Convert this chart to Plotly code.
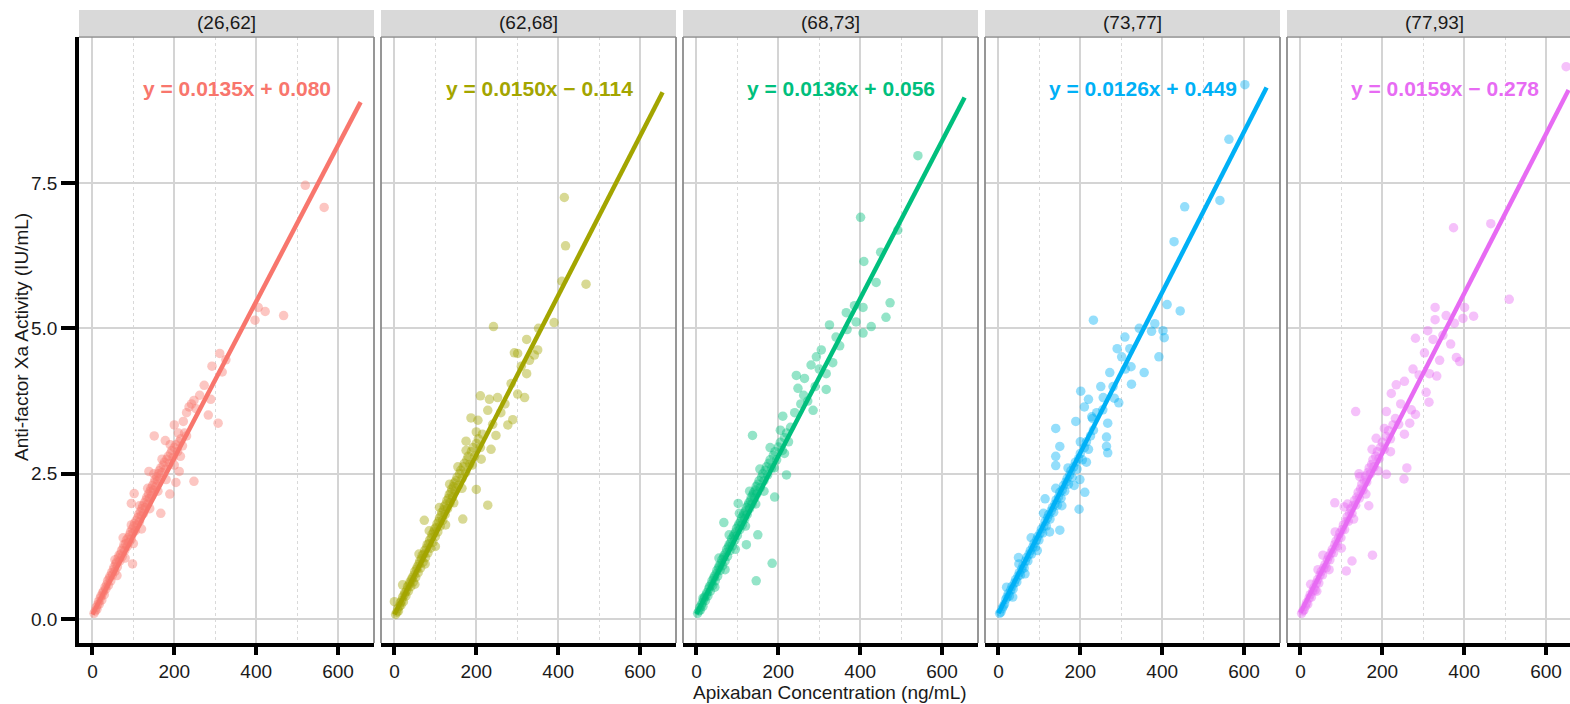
import plotly.graph_objects as go

# ---------------- data ----------------
panels = ["(26,62]", "(62,68]", "(68,73]", "(73,77]", "(77,93]"]
colors = ["#F8766D", "#A3A500", "#00BF7D", "#00B0F6", "#E76BF3"]
equations = ["y = 0.0135x + 0.080", "y = 0.0150x \u2212 0.114", "y = 0.0136x + 0.056",
             "y = 0.0126x + 0.449", "y = 0.0159x \u2212 0.278"]

# fitted line end points
line_x_start = [0, 0, 0, 0, 0]
line_x_end = [655, 655, 655, 655, 655]
line_y_start = [0.08, 0.08, 0.09, 0.10, 0.11]
line_y_end = [8.89, 9.06, 8.97, 9.14, 9.10]

# scatter points (concentration, activity)
pts1 = [(4,0.10),(7,0.14),(9,0.20),(11,0.17),(13,0.25),(15,0.30),(17,0.26),(19,0.36),(21,0.40),(23,0.33),
        (25,0.45),(27,0.48),(29,0.42),(31,0.55),(33,0.52),(35,0.60),(37,0.66),(39,0.58),(41,0.70),(43,0.74),
        (45,0.66),(47,0.80),(49,0.76),(51,0.85),(53,0.90),(55,0.82),(57,0.95),(59,0.98),(61,0.90),(63,1.05),
        (65,1.10),(67,1.00),(69,1.12),(71,1.18),(73,1.08),(75,1.22),(77,1.28),(79,1.18),(81,1.30),(83,1.36),
        (85,1.25),(87,1.40),(89,1.32),(91,1.45),(93,1.50),(95,1.38),(97,1.55),(99,1.48),(101,1.60),(103,1.65),
        (105,1.52),(107,1.70),(109,1.62),(111,1.75),(113,1.80),(115,1.68),(117,1.85),(119,1.78),(121,1.90),
        (123,1.95),(125,1.82),(127,2.00),(129,1.92),(131,2.05),(133,2.10),(135,1.98),(137,2.15),(139,2.08),
        (141,2.20),(143,2.25),(145,2.12),(147,2.30),(149,2.22),(151,2.35),(153,2.40),(155,2.28),(157,2.45),
        (159,2.38),(161,2.50),(163,2.55),(165,2.42),(167,2.60),(170,2.52),(173,2.65),(176,2.70),(179,2.58),
        (182,2.75),(185,2.80),(188,2.68),(191,2.85),(194,2.90),(197,2.78),(200,2.95),(204,3.00),(208,2.88),
        (212,3.05),(216,3.10),(220,2.98),(225,3.20),(230,3.15),
        (55,1.02),(60,0.75),(75,1.40),(80,1.05),(95,1.62),(100,1.30),(115,1.95),(120,1.55),(135,2.25),
        (140,1.90),(150,2.50),(160,2.20),(170,2.75),(180,2.40),(190,3.00),(200,2.65),(210,3.20),(215,2.80),
        (520,7.46),(566,7.08),(405,5.36),(422,5.29),(397,5.14),(467,5.22),(311,4.57),(292,4.35),(317,4.25),
        (326,4.46),(273,4.02),(289,3.78),(283,3.51),(307,3.37),(248,3.76),(236,3.65),(242,3.70),(253,3.62),
        (151,3.15),(178,3.07),(200,3.34),(248,2.37),(204,2.35),(189,2.15),(167,1.82),(98,0.95),(102,2.16),
        (95,1.99),(212,2.54),(138,2.54),(222,3.40),(262,3.85),(230,3.55)]

pts2 = [(3,0.08),(6,0.12),(8,0.18),(10,0.14),(12,0.22),(14,0.28),(16,0.24),(18,0.32),(20,0.38),(22,0.30),
        (24,0.42),(26,0.46),(28,0.40),(30,0.50),(32,0.56),(34,0.48),(36,0.60),(38,0.64),(40,0.56),(42,0.68),
        (44,0.72),(46,0.64),(48,0.76),(50,0.82),(52,0.72),(54,0.86),(56,0.90),(58,0.80),(60,0.95),(62,1.00),
        (64,0.88),(66,1.04),(68,1.10),(70,0.98),(72,1.12),(74,1.18),(76,1.06),(78,1.22),(80,1.28),(82,1.14),
        (84,1.30),(86,1.36),(88,1.22),(90,1.40),(92,1.46),(94,1.32),(96,1.50),(98,1.55),(100,1.42),(102,1.58),
        (104,1.64),(106,1.50),(108,1.68),(110,1.74),(112,1.60),(114,1.78),(116,1.84),(118,1.70),(120,1.88),
        (122,1.94),(124,1.80),(126,1.98),(128,2.04),(130,1.90),(132,2.08),(134,2.14),(136,2.00),(138,2.18),
        (140,2.24),(142,2.10),(144,2.28),(146,2.34),(148,2.20),(150,2.38),(153,2.44),(156,2.30),(159,2.50),
        (162,2.56),(165,2.42),(168,2.62),(171,2.68),(174,2.52),(177,2.74),(180,2.80),(184,2.66),(188,2.88),
        (192,2.95),(196,2.80),(200,3.02),(205,3.10),(210,2.95),(215,3.18),
        (50,0.60),(60,1.12),(75,0.95),(85,1.52),(100,1.25),(110,1.92),(125,1.62),(135,2.32),(145,2.00),
        (155,2.62),(165,2.25),(175,2.90),(190,2.65),(200,3.22),(212,2.75),
        (415,7.25),(418,6.42),(409,5.81),(468,5.76),(242,5.03),(390,5.10),(352,5.00),(323,4.81),(293,4.58),
        (301,4.57),(350,4.63),(342,4.54),(323,4.22),(318,3.81),(301,3.87),(210,3.84),(232,3.78),(252,3.81),
        (228,3.59),(187,3.46),(204,3.42),(277,3.34),(289,3.43),(175,3.06),(236,2.92),(248,3.16),(228,1.96),
        (200,2.23),(73,1.70),(167,1.72),(20,0.59),(0,0.30),(260,3.55),(270,3.70),(310,4.35),(330,4.45),
        (285,4.05),(240,3.35)]

pts3 = [(3,0.10),(6,0.14),(8,0.20),(10,0.16),(12,0.24),(14,0.28),(16,0.22),(18,0.34),(20,0.38),(22,0.32),
        (24,0.42),(26,0.46),(28,0.40),(30,0.52),(32,0.56),(34,0.48),(36,0.60),(38,0.66),(40,0.58),(42,0.70),
        (44,0.74),(46,0.66),(48,0.78),(50,0.84),(52,0.74),(54,0.88),(56,0.92),(58,0.84),(60,0.96),(62,1.02),
        (64,0.92),(66,1.06),(68,1.10),(70,1.00),(72,1.14),(74,1.20),(76,1.08),(78,1.24),(80,1.28),(82,1.18),
        (84,1.32),(86,1.38),(88,1.26),(90,1.42),(92,1.46),(94,1.36),(96,1.50),(98,1.56),(100,1.44),(102,1.60),
        (104,1.64),(106,1.54),(108,1.68),(110,1.74),(112,1.62),(114,1.78),(116,1.82),(118,1.72),(120,1.86),
        (122,1.92),(124,1.80),(126,1.96),(128,2.00),(130,1.90),(132,2.04),(134,2.10),(136,1.98),(138,2.14),
        (140,2.18),(142,2.08),(144,2.22),(146,2.28),(148,2.16),(150,2.32),(153,2.38),(156,2.26),(159,2.44),
        (162,2.50),(165,2.38),(168,2.56),(171,2.62),(174,2.48),(177,2.68),(180,2.74),(184,2.60),(188,2.82),
        (192,2.88),(196,2.74),(200,2.96),(205,3.04),(210,2.90),(215,3.12),(220,3.20),(225,3.05),(230,3.30),
        (45,0.55),(55,1.05),(70,0.85),(80,1.45),(95,1.20),(105,1.82),(120,1.60),(130,2.20),(145,1.98),
        (155,2.58),(165,2.20),(180,2.95),(190,2.60),(205,3.25),(215,2.85),
        (541,7.97),(401,6.91),(492,6.69),(450,6.31),(409,6.15),(439,5.79),(473,5.44),(463,5.19),(407,5.36),
        (386,5.39),(366,5.27),(390,5.11),(368,4.98),(427,5.03),(407,4.92),(325,5.06),(341,4.85),(305,4.63),
        (293,4.51),(280,4.37),(333,4.41),(317,4.22),(317,3.95),(244,4.19),(264,4.14),(248,3.97),(272,3.75),
        (285,3.59),(211,3.49),(137,3.16),(220,2.48),(191,2.10),(102,1.99),(67,1.66),(150,1.45),(122,1.28),
        (185,0.96),(146,0.66),(16,0.36),(240,3.55),(255,3.70),(262,3.85),(300,4.30),(350,4.70),(290,4.00)]

pts4 = [(3,0.10),(6,0.12),(9,0.18),(12,0.22),(15,0.26),(18,0.34),(21,0.38),(24,0.44),(27,0.40),(30,0.50),
        (33,0.56),(36,0.52),(39,0.62),(42,0.68),(45,0.64),(48,0.74),(51,0.80),(54,0.76),(57,0.86),(60,0.92),
        (63,0.88),(66,1.00),(69,1.06),(72,1.00),(75,1.12),(78,1.18),(81,1.12),(84,1.24),(87,1.30),(90,1.24),
        (93,1.36),(96,1.42),(99,1.36),(102,1.48),(105,1.55),(108,1.48),(111,1.60),(114,1.68),(117,1.60),
        (120,1.74),(123,1.80),(126,1.72),(129,1.86),(132,1.92),(135,1.84),(138,1.98),(141,2.05),(144,1.96),
        (147,2.10),(150,2.18),(153,2.08),(156,2.22),(159,2.30),(162,2.20),(165,2.36),(168,2.42),(171,2.32),
        (174,2.48),(177,2.55),(180,2.44),(184,2.62),(188,2.70),(192,2.58),(196,2.76),(200,2.85),(205,2.74),
        (210,2.95),(215,3.05),(220,2.92),(225,3.15),(232,3.25),
        (20,0.55),(35,0.38),(50,0.95),(65,0.78),(80,1.40),(95,1.18),(110,1.82),(125,1.50),(140,2.25),
        (155,1.95),(170,2.60),(185,2.30),(200,3.05),(215,2.70),(230,3.45),
        (602,9.19),(563,8.25),(455,7.09),(541,7.20),(429,6.49),(412,5.41),(444,5.30),(232,5.14),(382,5.08),
        (374,4.95),(402,4.96),(405,4.84),(344,5.00),(392,4.51),(309,4.85),(290,4.65),(321,4.65),(301,4.51),
        (324,4.34),(356,4.24),(272,4.24),(325,4.04),(250,4.00),(201,3.92),(220,3.78),(210,3.65),(294,3.72),
        (283,3.80),(256,3.81),(189,3.40),(140,3.28),(228,3.48),(267,3.37),(264,3.13),(264,2.97),(267,2.86),
        (150,2.97),(140,2.80),(140,2.64),(211,2.18),(197,1.89),(150,1.53),(114,2.07),(199,2.40),(49,1.06),
        (240,3.55),(255,3.60),(280,4.00),(310,4.30)]

pts5 = [(3,0.10),(6,0.14),(9,0.16),(12,0.22),(15,0.28),(18,0.26),(21,0.36),(24,0.42),(27,0.38),(30,0.48),
        (33,0.54),(36,0.50),(39,0.62),(42,0.68),(45,0.62),(48,0.76),(51,0.82),(54,0.76),(57,0.88),(60,0.94),
        (63,0.88),(66,1.02),(69,1.08),(72,1.02),(75,1.14),(78,1.20),(81,1.14),(84,1.28),(87,1.34),(90,1.26),
        (93,1.40),(96,1.48),(99,1.40),(102,1.54),(105,1.62),(108,1.54),(111,1.68),(114,1.76),(117,1.68),
        (120,1.82),(123,1.90),(126,1.82),(129,1.96),(132,2.04),(135,1.96),(138,2.10),(141,2.18),(144,2.08),
        (147,2.24),(150,2.32),(153,2.22),(156,2.38),(159,2.46),(162,2.36),(165,2.52),(168,2.60),(171,2.50),
        (174,2.66),(177,2.74),(180,2.62),(184,2.80),(188,2.88),(192,2.76),(196,2.96),(200,3.04),(205,2.92),
        (210,3.14),(215,3.24),(220,3.10),(226,3.34),(232,3.45),
        (25,0.60),(40,0.48),(55,1.10),(70,0.85),(85,1.50),(100,1.22),(115,1.98),(130,1.72),(145,2.45),
        (160,2.15),(175,2.92),(190,2.55),(205,3.28),(220,2.88),
        (649,9.50),(374,6.73),(465,6.80),(510,5.50),(329,5.36),(329,5.15),(356,5.22),(401,5.36),(423,5.21),
        (376,5.09),(397,5.17),(311,4.96),(281,4.83),(324,4.81),(367,4.73),(348,4.88),(303,4.58),(340,4.45),
        (381,4.50),(389,4.43),(275,4.30),(315,4.22),(333,4.18),(254,4.09),(234,4.03),(222,3.88),(307,3.90),
        (314,3.73),(271,3.60),(281,3.52),(210,3.57),(135,3.57),(267,3.37),(254,3.18),(185,3.11),(210,2.49),
        (260,2.60),(253,2.41),(143,2.50),(84,2.00),(107,1.93),(167,1.95),(176,1.10),(126,1.00),(112,0.83),
        (43,0.85),(245,3.70),(290,4.20),(240,3.35)]

all_pts = [pts1, pts2, pts3, pts4, pts5]

y_ticks = [0, 2.5, 5.0, 7.5]
y_tick_text = ["0.0", "2.5", "5.0", "7.5"]
x_ticks = [0, 200, 400, 600]
x_minor = [100, 300, 500]

# ---------------- layout geometry ----------------
W, H = 1570, 704
L, R, T, B = 79, 0, 37, 61
PW = W - L - R
PH = H - T - B
panel_w = 295
panel_step = 302
px_per_unit = panel_w / 720.5
x_lo = -32.75
y_range = [-0.41, 10.01]
FONT = "Liberation Sans, Arial, sans-serif"

fig = go.Figure()
layout = dict(width=W, height=H, margin=dict(l=L, r=R, t=T, b=B),
              plot_bgcolor="white", paper_bgcolor="white", showlegend=False)

shapes = []
annotations = []

for i in range(5):
    xa = "x" if i == 0 else f"x{i+1}"
    left_px = panel_step * i
    right_px = min(left_px + panel_w, PW)
    d0, d1 = left_px / PW, right_px / PW
    x_hi = x_lo + (right_px - left_px) / px_per_unit
    pts = all_pts[i]
    conc = [p[0] for p in pts]
    act = [p[1] for p in pts]
    fig.add_trace(go.Scatter(x=conc, y=act, mode="markers", xaxis=xa, yaxis="y",
                             marker=dict(size=9.5, color=colors[i], opacity=0.42, line=dict(width=0)),
                             hoverinfo="skip"))
    fig.add_trace(go.Scatter(x=[line_x_start[i], line_x_end[i]], y=[line_y_start[i], line_y_end[i]],
                             mode="lines", xaxis=xa, yaxis="y",
                             line=dict(color=colors[i], width=4.5), hoverinfo="skip"))
    axname = "xaxis" if i == 0 else f"xaxis{i+1}"
    layout[axname] = dict(domain=[d0, d1], anchor="y", range=[x_lo, x_hi],
                          tickvals=x_ticks, ticktext=[str(v) for v in x_ticks],
                          showgrid=True, gridcolor="#d4d4d4", gridwidth=1.6,
                          zeroline=False, showline=True, linecolor="black", linewidth=3.5,
                          ticks="outside", ticklen=8, tickwidth=3.5, tickcolor="black",
                          tickfont=dict(family=FONT, size=19, color="#1a1a1a"),
                          minor=dict(tickvals=x_minor, showgrid=True, gridcolor="#d9d9d9",
                                     griddash="dot", gridwidth=1, ticks=""),
                          fixedrange=True)
    # panel border (grey): top, right, left (except first panel)
    shapes.append(dict(type="line", xref="paper", yref="paper", x0=d0, x1=d1, y0=1, y1=1,
                       line=dict(color="#8c8c8c", width=1.5), layer="above"))
    if right_px < PW:
        shapes.append(dict(type="line", xref="paper", yref="paper", x0=d1, x1=d1, y0=0, y1=1,
                           line=dict(color="#8c8c8c", width=1.8), layer="above"))
    if i > 0:
        shapes.append(dict(type="line", xref="paper", yref="paper", x0=d0, x1=d0, y0=0, y1=1,
                           line=dict(color="#8c8c8c", width=1.8), layer="above"))
    # strip
    s0 = (H - B - 36) / PH
    s1 = (H - B - 10) / PH
    shapes.append(dict(type="rect", xref="paper", yref="paper", x0=d0, x1=d1, y0=s0, y1=s1,
                       fillcolor="#d9d9d9", line=dict(width=0), layer="below"))
    annotations.append(dict(text=panels[i], xref="paper", yref="paper",
                            x=(left_px + panel_w / 2) / PW, y=(s0 + s1) / 2,
                            xanchor="center", yanchor="middle", showarrow=False,
                            font=dict(family=FONT, size=19, color="#1a1a1a")))
    # equation
    annotations.append(dict(text=f"<b>{equations[i]}</b>", xref=xa, yref="y", x=354, y=9.12,
                            xanchor="center", yanchor="middle", showarrow=False,
                            font=dict(family=FONT, size=21, color=colors[i])))

layout["yaxis"] = dict(domain=[0, 1], anchor="x", range=y_range,
                       tickvals=y_ticks, ticktext=y_tick_text,
                       showgrid=True, gridcolor="#d4d4d4", gridwidth=1.6,
                       zeroline=False, showline=True, linecolor="black", linewidth=3.5,
                       ticks="outside", ticklen=14, tickwidth=3.5, tickcolor="black",
                       tickfont=dict(family=FONT, size=19, color="#1a1a1a"),
                       fixedrange=True)

annotations.append(dict(text="Apixaban Concentration (ng/mL)", xref="paper", yref="paper",
                        x=(830 - L) / PW, y=(H - B - 692) / PH, xanchor="center", yanchor="middle",
                        showarrow=False, font=dict(family=FONT, size=19, color="#1a1a1a")))
annotations.append(dict(text="Anti-factor Xa Activity (IU/mL)", xref="paper", yref="paper",
                        x=(21 - L) / PW, y=(H - B - 337) / PH, xanchor="center", yanchor="middle",
                        textangle=-90, showarrow=False,
                        font=dict(family=FONT, size=19, color="#1a1a1a")))

layout["shapes"] = shapes
layout["annotations"] = annotations
fig.update_layout(**layout)
fig.write_html("out.html", config={"displayModeBar": False},
               post_script="document.body.style.margin='0px';document.body.style.overflow='hidden';")
